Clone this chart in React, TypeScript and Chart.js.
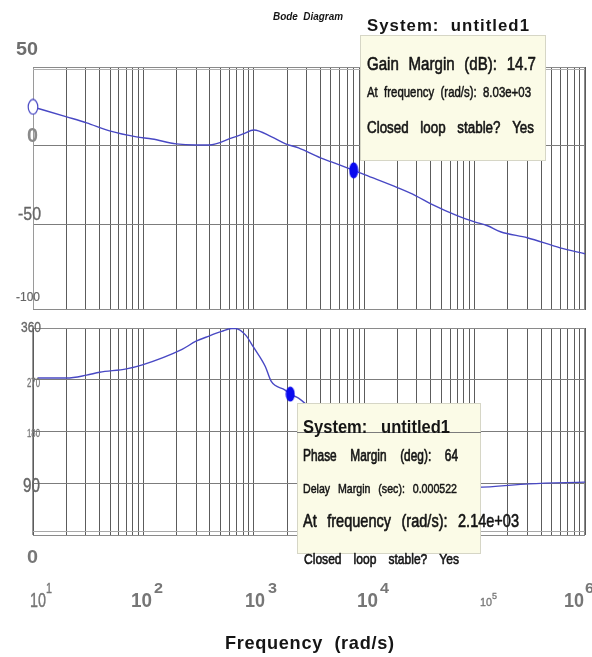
import React, { useEffect, useRef } from "react";
import { Chart, registerables } from "chart.js";
Chart.register(...registerables);

// ---------- data ----------
const magFreq = [10, 20.2, 30.6, 49.4, 86.5, 120, 198, 300, 393, 634, 800, 1000, 1452, 1942, 2541, 4018, 5047, 8030, 10210, 20230, 29400, 40160, 70300, 100000, 130900, 171400, 300000, 595000, 1000000];
const magDb = [24.7, 18.4, 14.6, 9.5, 5.7, 4.4, 1.3, 0.6, 0.6, 5.1, 7.6, 10.1, 5.7, 1.3, -1.3, -7.6, -10.1, -15.5, -18.4, -26.6, -31.6, -36.7, -44.3, -48.1, -50.6, -54.4, -58.2, -64.6, -68.4];

const phaseFreq = [11, 20.2, 30.6, 40.1, 70.2, 97.9, 224, 300, 393, 512, 630, 684, 840, 991, 1271, 1439, 1923, 2140, 2541, 4786, 13370, 37760, 104700, 313000, 1000000];
const phaseDeg = [273, 273, 278, 283, 289, 296, 323, 337, 346, 354, 359, 359, 348, 327, 293, 267, 252, 245, 238, 190, 125, 95, 83, 89, 92];

const gainMarkerFreq = [8030];
const gainMarkerDb = [-15.5];
const phaseMarkerFreq = [2140];
const phaseMarkerDeg = [245];

const magGridValues = [0, -50];
const phaseGridValues = [270, 180, 90];
const gridDecades = [10, 100, 1000, 10000, 100000];
const gridMultiples = [1, 2, 3, 4, 5, 6, 7, 8, 9];

const magTickLabels = ["50", "0", "-50", "-100"];
const phaseTickLabels = ["360", "270", "180", "90", "0"];
const xTickBase = "10";
const xTickExponents = ["1", "2", "3", "4", "5", "6"];

const titleText = "Bode  Diagram";
const xAxisTitle = "Frequency  (rad/s)";
const gainBoxLines = ["System:  untitled1", "Gain Margin (dB): 14.7", "At frequency (rad/s): 8.03e+03", "Closed loop stable? Yes"];
const phaseBoxLines = ["System:   untitled1", "Phase Margin (deg): 64", "Delay Margin (sec): 0.000522", "At frequency (rad/s): 2.14e+03", "Closed loop stable? Yes"];

// ---------- styles ----------
const CURVE = "#4848c4";
const MARKER = "#0a0aee";
const VGRID = "#5c5c5c";
const HGRID = "#7c7c7c";
const FRAME = "#8a8a8a";
const BOXFILL = "#fbfbe7";
const BOXEDGE = "#d6d6c6";
const INK = "#151515";
const GREY = "#6e6e6e";

const C1H = 318;
const C2TOP = 318;
const C2H = 657 - C2TOP;

type Mode = "fit" | "scale" | "words";
type TextSpec = {
  t: string; x: number; top: number; cap: number; w: number;
  bold?: boolean; italic?: boolean; color?: string; mode?: Mode; sx?: number; heavy?: number;
};

function fontFor(s: TextSpec) {
  const size = s.cap / 0.716;
  return `${s.italic ? "italic " : ""}${s.bold ? "bold " : ""}${size.toFixed(2)}px "Liberation Sans", Arial, sans-serif`;
}

function paint(ctx: CanvasRenderingContext2D, txt: string, x: number, y: number, s: TextSpec) {
  ctx.fillText(txt, x, y);
  if (s.heavy) {
    ctx.lineWidth = s.heavy;
    ctx.strokeText(txt, x, y);
  }
}

function drawText(ctx: CanvasRenderingContext2D, s: TextSpec, dy = 0) {
  ctx.save();
  ctx.font = fontFor(s);
  ctx.fillStyle = s.color ?? INK;
  ctx.strokeStyle = s.color ?? INK;
  ctx.lineJoin = "round";
  ctx.textBaseline = "alphabetic";
  ctx.textAlign = "left";
  const base = s.top + s.cap - dy;
  const mode: Mode = s.mode ?? "fit";
  const anyCtx = ctx as any;
  if (mode === "words") {
    const sx = s.sx ?? 0.82;
    const words = s.t.split(/\s+/);
    const widths = words.map((w) => ctx.measureText(w).width * sx);
    const total = widths.reduce((a, b) => a + b, 0);
    const gap = words.length > 1 ? (s.w - total) / (words.length - 1) : 0;
    let x = s.x;
    words.forEach((w, i) => {
      ctx.save();
      ctx.translate(x, base);
      ctx.scale(sx, 1);
      paint(ctx, w, 0, 0, { ...s, heavy: s.heavy ? s.heavy / sx : 0 });
      ctx.restore();
      x += widths[i] + gap;
    });
  } else {
    const nat = ctx.measureText(s.t).width;
    if (mode === "fit" && s.w > nat && s.t.length > 1 && "letterSpacing" in anyCtx) {
      anyCtx.letterSpacing = `${((s.w - nat) / (s.t.length - 1)).toFixed(2)}px`;
      paint(ctx, s.t, s.x, base, s);
    } else {
      const k = s.w / nat;
      ctx.translate(s.x, base);
      ctx.scale(k, 1);
      paint(ctx, s.t, 0, 0, { ...s, heavy: s.heavy ? s.heavy / k : 0 });
    }
  }
  ctx.restore();
}

function makeEllipse(w: number, h: number, fill: string | null, stroke: string | null, lw = 1.3) {
  const c = document.createElement("canvas");
  c.width = w;
  c.height = h;
  const g = c.getContext("2d")!;
  g.beginPath();
  const m = stroke ? lw : 0.5;
  g.ellipse(w / 2, h / 2, w / 2 - m, h / 2 - m, 0, 0, Math.PI * 2);
  if (fill) {
    g.fillStyle = fill;
    g.fill();
  }
  if (stroke) {
    g.strokeStyle = stroke;
    g.lineWidth = lw;
    g.stroke();
  }
  return c;
}

const xGridTicks = () => {
  const v: number[] = [];
  gridDecades.forEach((d) => gridMultiples.forEach((k) => v.push(k * d)));
  v.push(1000000);
  return v.map((value) => ({ value }));
};

function hline(ctx: CanvasRenderingContext2D, x1: number, x2: number, y: number, color: string) {
  ctx.save();
  ctx.strokeStyle = color;
  ctx.lineWidth = 1;
  ctx.beginPath();
  ctx.moveTo(x1, Math.round(y) + 0.5);
  ctx.lineTo(x2, Math.round(y) + 0.5);
  ctx.stroke();
  ctx.restore();
}
function vline(ctx: CanvasRenderingContext2D, x: number, y1: number, y2: number, color: string) {
  ctx.save();
  ctx.strokeStyle = color;
  ctx.lineWidth = 1;
  ctx.beginPath();
  ctx.moveTo(Math.round(x) + 0.5, y1);
  ctx.lineTo(Math.round(x) + 0.5, y2);
  ctx.stroke();
  ctx.restore();
}

const baseX = {
  type: "logarithmic" as const,
  min: 10,
  max: 1000000,
  afterBuildTicks: (s: any) => {
    s.ticks = xGridTicks();
  },
  ticks: { display: false },
  grid: { color: VGRID, lineWidth: 1, drawTicks: false },
  border: { display: false },
};

export default function App() {
  const ref1 = useRef<HTMLCanvasElement>(null);
  const ref2 = useRef<HTMLCanvasElement>(null);

  useEffect(() => {
    const filled = makeEllipse(10, 17, MARKER, null);
    const filled2 = makeEllipse(10, 16, MARKER, null);
    const hollow = makeEllipse(12, 17, "#ffffff", CURVE, 1.2);

    const magPlugin = {
      id: "magDeco",
      beforeDatasetsDraw(chart: any) {
        const { ctx, chartArea: a } = chart;
        vline(ctx, a.left, a.top, a.bottom, "#9a9a9a");
        vline(ctx, a.right - 1, a.top, a.bottom, FRAME);
        hline(ctx, a.left, a.right, a.top, FRAME);
        hline(ctx, a.left, a.right, a.top + 2, "#b0b0b0");
        hline(ctx, a.left, a.right, a.bottom - 1, FRAME);
      },
      afterDatasetsDraw(chart: any) {
        const { ctx } = chart;
        ctx.save();
        ctx.fillStyle = BOXFILL;
        ctx.fillRect(360, 35, 185, 125);
        ctx.strokeStyle = BOXEDGE;
        ctx.lineWidth = 1;
        ctx.strokeRect(360.5, 35.5, 185, 125);
        ctx.restore();
      },
      afterDraw(chart: any) {
        const { ctx } = chart;
        drawText(ctx, { t: titleText, x: 273, top: 12, cap: 8, w: 70, bold: true, italic: true });
        drawText(ctx, { t: gainBoxLines[0], x: 367, top: 19, cap: 12, w: 162, bold: true });
        drawText(ctx, { t: gainBoxLines[1], x: 367, top: 56, cap: 13.5, w: 169, mode: "words", sx: 0.8, heavy: 0.5 });
        drawText(ctx, { t: gainBoxLines[2], x: 367, top: 86, cap: 10.5, w: 164, mode: "words", sx: 0.78, heavy: 0.4 });
        drawText(ctx, { t: gainBoxLines[3], x: 367, top: 121, cap: 12, w: 167, mode: "words", sx: 0.8, heavy: 0.5 });
        drawText(ctx, { t: magTickLabels[0], x: 16, top: 42, cap: 12.5, w: 22, bold: true, color: GREY, mode: "scale" });
        drawText(ctx, { t: magTickLabels[1], x: 27, top: 128, cap: 14, w: 11, bold: true, color: "#8a8a8a", mode: "scale" });
        drawText(ctx, { t: magTickLabels[2], x: 18, top: 207, cap: 13, w: 23, color: "#666", mode: "scale", heavy: 0.3 });
        drawText(ctx, { t: magTickLabels[3], x: 16, top: 292, cap: 8.5, w: 24, color: "#666", mode: "scale", heavy: 0.2 });
      },
    };

    const phasePlugin = {
      id: "phaseDeco",
      beforeDatasetsDraw(chart: any) {
        const { ctx, chartArea: a } = chart;
        vline(ctx, a.left - 1, a.top, a.bottom, "#9a9a9a");
        vline(ctx, a.right - 1, a.top, a.bottom, FRAME);
        hline(ctx, a.left, a.right, a.top, FRAME);
        hline(ctx, a.left, a.right, a.bottom, FRAME);
        hline(ctx, a.left, a.right, a.bottom - 4, "#a8a8a8");
      },
      afterDatasetsDraw(chart: any) {
        const { ctx, scales } = chart;
        const top = 403 - C2TOP;
        ctx.save();
        ctx.fillStyle = BOXFILL;
        ctx.fillRect(297, top, 183, 150);
        ctx.strokeStyle = BOXEDGE;
        ctx.lineWidth = 1;
        ctx.strokeRect(297.5, top + 0.5, 183, 150);
        ctx.restore();
        const y180 = scales.y.getPixelForValue(phaseGridValues[1]);
        hline(ctx, 297, 481, y180, HGRID);
      },
      afterDraw(chart: any) {
        const { ctx } = chart;
        const d = C2TOP;
        drawText(ctx, { t: phaseTickLabels[0], x: 21, top: 322, cap: 10, w: 20, color: "#666", mode: "scale", heavy: 0.3 }, d);
        drawText(ctx, { t: phaseTickLabels[1], x: 27, top: 378, cap: 9, w: 13, color: "#777", mode: "scale", heavy: 0.2 }, d);
        drawText(ctx, { t: phaseTickLabels[2], x: 27, top: 429, cap: 8, w: 13, color: "#777", mode: "scale", heavy: 0.2 }, d);
        drawText(ctx, { t: phaseTickLabels[3], x: 23, top: 478, cap: 14, w: 17, color: "#666", mode: "scale", heavy: 0.3 }, d);
        drawText(ctx, { t: phaseTickLabels[4], x: 27, top: 550, cap: 13, w: 11, bold: true, color: "#777", mode: "scale" }, d);

        drawText(ctx, { t: phaseBoxLines[0], x: 303, top: 420, cap: 12.5, w: 147, bold: true }, d);
        drawText(ctx, { t: phaseBoxLines[1], x: 303, top: 449.5, cap: 11.5, w: 155, mode: "words", sx: 0.74, heavy: 0.5 }, d);
        drawText(ctx, { t: phaseBoxLines[2], x: 303, top: 483.5, cap: 9.5, w: 154, mode: "words", sx: 0.8, heavy: 0.4 }, d);
        drawText(ctx, { t: phaseBoxLines[3], x: 303, top: 514, cap: 13, w: 216, mode: "words", sx: 0.8, heavy: 0.5 }, d);
        drawText(ctx, { t: phaseBoxLines[4], x: 304, top: 553, cap: 10.8, w: 155, mode: "words", sx: 0.8, heavy: 0.5 }, d);

        const xl = [
          { b: { x: 30, top: 593, cap: 14, w: 16 }, e: { x: 46, top: 583, cap: 10, w: 6 }, bold: false },
          { b: { x: 131, top: 593, cap: 14, w: 21 }, e: { x: 154, top: 583, cap: 10, w: 9 }, bold: true },
          { b: { x: 245, top: 593, cap: 14, w: 20 }, e: { x: 268, top: 583, cap: 10, w: 9 }, bold: true },
          { b: { x: 357, top: 593, cap: 14, w: 21 }, e: { x: 380, top: 583, cap: 10, w: 9 }, bold: true },
          { b: { x: 480, top: 598, cap: 8, w: 12 }, e: { x: 492, top: 593, cap: 6, w: 5 }, bold: false },
          { b: { x: 564, top: 593, cap: 14, w: 20 }, e: { x: 585, top: 583, cap: 10, w: 9 }, bold: true },
        ];
        xl.forEach((l, i) => {
          const heavy = l.bold ? 0 : 0.3;
          drawText(ctx, { t: xTickBase, ...l.b, bold: l.bold, color: "#767676", mode: "scale", heavy }, d);
          drawText(ctx, { t: xTickExponents[i], ...l.e, bold: l.bold, color: "#767676", mode: "scale", heavy }, d);
        });
        drawText(ctx, { t: xAxisTitle, x: 225, top: 636, cap: 13, w: 169, bold: true }, d);
      },
    };

    const common = {
      responsive: false,
      animation: false as const,
      events: [] as any[],
      plugins: { legend: { display: false }, tooltip: { enabled: false } },
    };

    const c1 = new Chart(ref1.current!, {
      type: "line",
      data: {
        datasets: [
          {
            data: gainMarkerFreq.map((f, i) => ({ x: f, y: gainMarkerDb[i] })),
            pointStyle: filled as any,
            pointRadius: 6,
            showLine: false,
            clip: false as any,
            order: 0,
          },
          {
            data: [{ x: magFreq[0], y: magDb[0] }],
            pointStyle: hollow as any,
            pointRadius: 6,
            showLine: false,
            clip: false as any,
            order: 1,
          },
          {
            data: magFreq.map((f, i) => ({ x: f, y: magDb[i] })),
            borderColor: CURVE,
            borderWidth: 1.4,
            pointRadius: 0,
            cubicInterpolationMode: "monotone",
            order: 2,
          },
        ],
      },
      options: {
        ...common,
        layout: { padding: { left: 33, right: 3, top: 67, bottom: C1H - 310 } },
        scales: {
          x: baseX as any,
          y: {
            type: "linear",
            min: -104,
            max: 50,
            afterBuildTicks: (s: any) => {
              s.ticks = magGridValues.map((value) => ({ value }));
            },
            ticks: { display: false },
            grid: { color: HGRID, drawTicks: false },
            border: { display: false },
          },
        },
      },
      plugins: [magPlugin],
    } as any);

    const c2 = new Chart(ref2.current!, {
      type: "line",
      data: {
        datasets: [
          {
            data: phaseMarkerFreq.map((f, i) => ({ x: f, y: phaseMarkerDeg[i] })),
            pointStyle: filled2 as any,
            pointRadius: 6,
            showLine: false,
            clip: false as any,
            order: 0,
          },
          {
            data: phaseFreq.map((f, i) => ({ x: f, y: phaseDeg[i] })),
            borderColor: CURVE,
            borderWidth: 1.4,
            pointRadius: 0,
            cubicInterpolationMode: "monotone",
            order: 1,
          },
        ],
      },
      options: {
        ...common,
        layout: { padding: { left: 33, right: 3, top: 328 - C2TOP, bottom: C2H - (535 - C2TOP) } },
        scales: {
          x: baseX as any,
          y: {
            type: "linear",
            min: 0,
            max: 360,
            afterBuildTicks: (s: any) => {
              s.ticks = phaseGridValues.map((value) => ({ value }));
            },
            ticks: { display: false },
            grid: { color: HGRID, drawTicks: false },
            border: { display: false },
          },
        },
      },
      plugins: [phasePlugin],
    } as any);

    return () => {
      c1.destroy();
      c2.destroy();
    };
  }, []);

  return (
    <div style={{ position: "absolute", left: 0, top: 0, width: 592, height: 657, background: "#fff", overflow: "hidden" }}>
      <canvas ref={ref1} width={592} height={C1H} style={{ position: "absolute", left: 0, top: 0 }} />
      <canvas ref={ref2} width={592} height={C2H} style={{ position: "absolute", left: 0, top: C2TOP }} />
    </div>
  );
}
